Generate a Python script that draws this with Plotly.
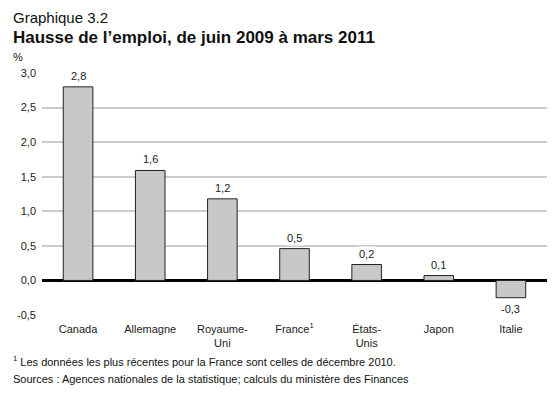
import plotly.graph_objects as go

categories = ["Canada", "Allemagne", "Royaume-<br>Uni", "France<sup>1</sup>", "États-<br>Unis", "Japon", "Italie"]
values = [2.8, 1.59, 1.18, 0.46, 0.23, 0.07, -0.25]
value_labels = ["2,8", "1,6", "1,2", "0,5", "0,2", "0,1", "-0,3"]
y_ticks = [-0.5, 0.0, 0.5, 1.0, 1.5, 2.0, 2.5, 3.0]
y_tick_labels = ["-0,5", "0,0", "0,5", "1,0", "1,5", "2,0", "2,5", "3,0"]

FONT = "Liberation Sans, Arial, Helvetica, sans-serif"

fig = go.Figure()
fig.add_trace(go.Bar(
    x=categories, y=values,
    marker=dict(color="#c8c8c8", line=dict(color="#222222", width=1)),
    width=0.41,
    hoverinfo="skip",
))

annotations = []
for c, v, t in zip(categories, values, value_labels):
    annotations.append(dict(
        x=c, y=v, xref="x", yref="y", text=t, showarrow=False,
        yshift=11 if v >= 0 else -11, bgcolor="white",
        font=dict(size=11, color="#222222", family=FONT), borderpad=1,
    ))

L, R, T, B = 42, 13, 73, 79
W, H = 560, 394
plot_h = H - T - B
plot_w = W - L - R

texts = [
    (11, 17, "Graphique 3.2", 15),
    (11, 38, "<b>Hausse de l’emploi, de juin 2009 à mars 2011</b>", 17),
    (11, 57, "%", 11),
    (11, 361, "<sup>1</sup> Les données les plus récentes pour la France sont celles de décembre 2010.", 11),
    (11, 379, "Sources : Agences nationales de la statistique; calculs du ministère des Finances", 11),
]
for px, py, txt, size in texts:
    annotations.append(dict(
        x=(px - L) / plot_w, y=(H - B - py) / plot_h, xref="paper", yref="paper",
        text=txt, showarrow=False, xanchor="left", yanchor="middle",
        font=dict(size=size, color="#111111", family=FONT),
    ))

fig.update_layout(
    width=W, height=H,
    margin=dict(l=L, r=R, t=T, b=B),
    paper_bgcolor="white", plot_bgcolor="white",
    showlegend=False,
    font=dict(family=FONT, size=11, color="#222222"),
    xaxis=dict(showgrid=False, showline=False, ticks="", tickfont=dict(size=11),
               ticklabelstandoff=6, range=[-0.5, 6.5]),
    yaxis=dict(range=[-0.5, 3.0], tickvals=y_ticks, ticktext=y_tick_labels,
               showgrid=True, gridcolor="#cccccc", gridwidth=1.5,
               zeroline=True, zerolinecolor="#000000", zerolinewidth=2.5,
               showline=False, ticks="", tickfont=dict(size=11), ticklabelstandoff=5),
    annotations=annotations,
)

fig.write_html("out.html", config={"displayModeBar": False},
               post_script="document.body.style.margin='0';")
